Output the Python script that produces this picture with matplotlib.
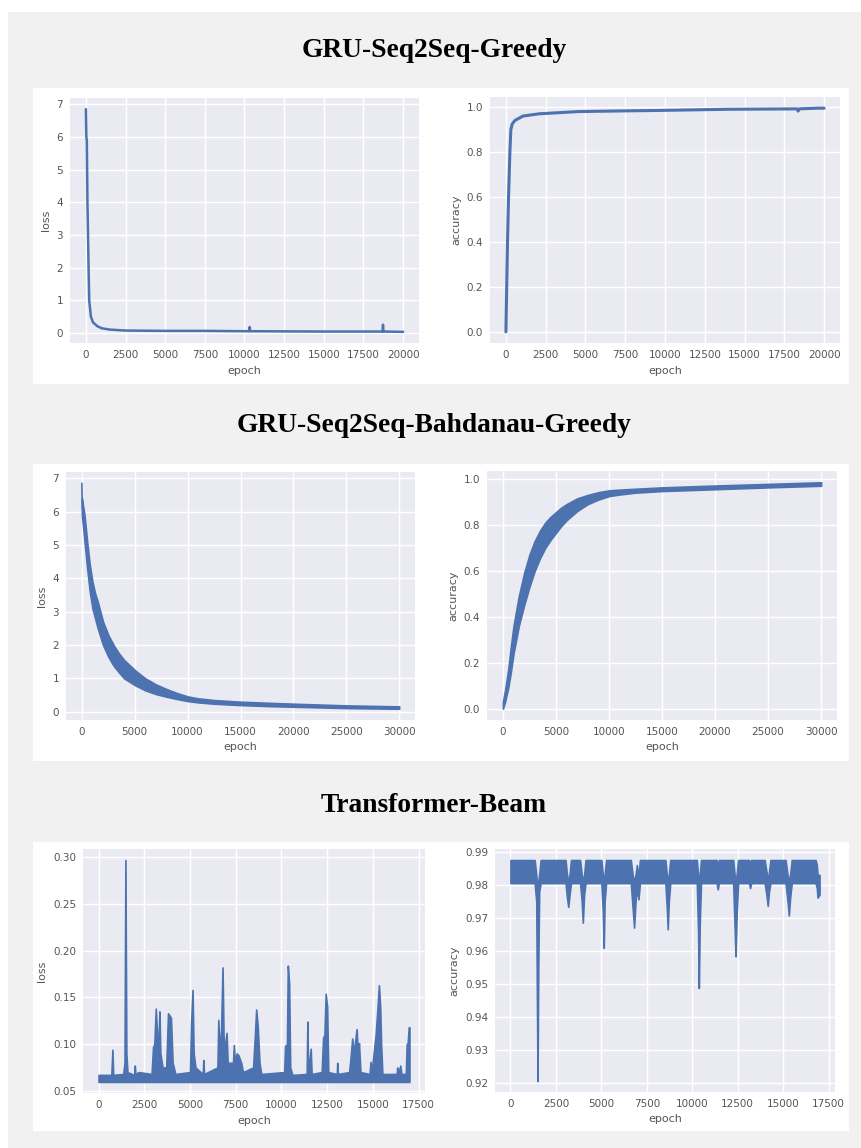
import numpy as np
import matplotlib
matplotlib.use("Agg")
import matplotlib.pyplot as plt
from matplotlib.patches import Rectangle
import seaborn as sns

sns.set_style("darkgrid")
plt.rcParams['font.family'] = ['DejaVu Sans']

# ---- data ----

# GRU-Seq2Seq-Greedy
gru_epoch = [0, 30, 60, 100, 170, 210, 315, 450, 735, 1000, 1500, 2500, 5000, 7500, 10000,
             10300, 10330, 10360, 12500, 15000, 17500, 18700, 18730, 18760, 20000]
gru_loss = [6.85, 6.0, 5.9, 4.0, 2.0, 1.0, 0.5, 0.32, 0.2, 0.14, 0.1, 0.07, 0.06, 0.06, 0.05,
            0.05, 0.18, 0.05, 0.045, 0.04, 0.04, 0.04, 0.25, 0.04, 0.03]

gru_acc_epoch = [0, 50, 100, 165, 250, 310, 400, 560, 1070, 2100, 4570, 7500, 9700, 13800,
                 18300, 18370, 18440, 19600, 20000]
gru_acc = [0.0, 0.2, 0.4, 0.6, 0.8, 0.9, 0.925, 0.94, 0.96, 0.97, 0.98, 0.983, 0.985, 0.99,
           0.992, 0.982, 0.992, 0.995, 0.995]

# GRU-Seq2Seq-Bahdanau-Greedy
bah_epoch = [0, 100, 250, 500, 750, 1000, 1250, 1500, 2000, 2500, 3000, 3500, 4000, 4500,
             5000, 6000, 7000, 8000, 9000, 10000, 11000, 12500, 15000, 17500, 20000, 25000,
             30000]
bah_loss_hi = [6.4, 6.2, 5.9, 5.1, 4.4, 3.9, 3.55, 3.3, 2.7, 2.3, 2.0, 1.75, 1.55, 1.4,
               1.25, 1.0, 0.82, 0.68, 0.56, 0.46, 0.4, 0.35, 0.3, 0.27, 0.24, 0.19, 0.16]
bah_loss_lo = [5.9, 5.6, 5.1, 4.3, 3.6, 3.1, 2.8, 2.5, 2.0, 1.65, 1.38, 1.18, 1.0, 0.9,
               0.8, 0.64, 0.53, 0.45, 0.38, 0.32, 0.28, 0.24, 0.2, 0.17, 0.15, 0.11, 0.09]
bah_spike_epoch = [0, 40]
bah_spike_loss = [6.85, 6.1]

bah_acc_epoch = [0, 200, 500, 750, 1000, 1500, 2000, 2500, 3000, 3500, 4000, 4500, 5000,
                 5500, 6000, 7000, 8000, 9000, 10000, 11000, 12500, 15000, 20000, 25000,
                 30000]
bah_acc_hi = [0.03, 0.08, 0.17, 0.27, 0.36, 0.49, 0.59, 0.67, 0.73, 0.775, 0.81, 0.835,
              0.855, 0.875, 0.89, 0.915, 0.93, 0.942, 0.95, 0.953, 0.957, 0.963, 0.971,
              0.978, 0.985]
bah_acc_lo = [0.0, 0.03, 0.09, 0.16, 0.24, 0.36, 0.45, 0.53, 0.6, 0.655, 0.7, 0.735, 0.765,
              0.795, 0.82, 0.86, 0.89, 0.91, 0.925, 0.932, 0.94, 0.947, 0.955, 0.963, 0.97]

# Transformer-Beam
tf_epoch = [0, 700, 760, 800, 1350, 1420, 1470, 1520, 1580, 1950, 1980, 2020, 2200, 2900,
            2980, 3050, 3130, 3200, 3280, 3330, 3380, 3500, 3700, 3800, 3900, 3960, 4050,
            4200, 5000, 5060, 5140, 5200, 5300, 5700, 5730, 5770, 6500, 6550, 6620, 6700,
            6780, 6850, 7000, 7060, 7350, 7400, 7450, 7550, 7650, 7800, 7900, 8450, 8550,
            8620, 8700, 8800, 8900, 10150, 10200, 10300, 10350, 10420, 10480, 10600, 11380,
            11420, 11460, 11600, 11650, 12200, 12280, 12350, 12420, 12500, 12560, 13030,
            13050, 13090, 13700, 13780, 13870, 13950, 14110, 14180, 14240, 14320, 14820,
            14870, 14920, 15150, 15250, 15330, 15400, 15450, 15520, 16300, 16330, 16380,
            16500, 16560, 16800, 16850, 16900, 16960, 17000]
tf_loss_hi = [0.067, 0.067, 0.094, 0.067, 0.068, 0.08, 0.297, 0.09, 0.07, 0.067, 0.077,
              0.068, 0.07, 0.068, 0.097, 0.1, 0.138, 0.11, 0.105, 0.135, 0.09, 0.075, 0.075,
              0.133, 0.13, 0.128, 0.08, 0.068, 0.07, 0.122, 0.158, 0.09, 0.075, 0.068, 0.083,
              0.068, 0.075, 0.126, 0.09, 0.115, 0.182, 0.09, 0.112, 0.08, 0.08, 0.099, 0.08,
              0.09, 0.088, 0.08, 0.07, 0.075, 0.11, 0.137, 0.12, 0.08, 0.068, 0.07, 0.098,
              0.1, 0.184, 0.165, 0.075, 0.067, 0.068, 0.124, 0.068, 0.095, 0.068, 0.07, 0.107,
              0.11, 0.154, 0.14, 0.07, 0.068, 0.08, 0.068, 0.07, 0.085, 0.106, 0.09, 0.116,
              0.09, 0.101, 0.07, 0.068, 0.081, 0.068, 0.11, 0.138, 0.163, 0.14, 0.1, 0.068,
              0.068, 0.075, 0.068, 0.077, 0.068, 0.068, 0.1, 0.1, 0.118, 0.118]
tf_loss_floor = 0.0595

# accuracy: each dip listed as shoulder / edge / bottom / edge / shoulder
tf_acc_epoch = [0,
                1330, 1420, 1450, 1490, 1530, 1580, 1660,
                3030, 3110, 3180, 3250, 3330,
                3830, 3920, 3980, 4050, 4130,
                5000, 5080, 5130, 5180, 5260,
                6620, 6720, 6800, 6880, 6950, 7040, 7120,
                8520, 8600, 8650, 8710, 8790,
                10250, 10320, 10360, 10410, 10480,
                11340, 11400, 11460,
                12250, 12330, 12380, 12440, 12520,
                13120, 13180, 13240,
                13980, 14080, 14150, 14220, 14300,
                15130, 15240, 15310, 15380, 15470,
                16780, 16850, 16890, 17000]
tf_acc_lo = [0.9805,
             0.9805, 0.975, 0.95, 0.9205, 0.955, 0.978, 0.9805,
             0.9805, 0.976, 0.9733, 0.977, 0.9805,
             0.9805, 0.975, 0.9685, 0.977, 0.9805,
             0.9805, 0.972, 0.9609, 0.975, 0.9805,
             0.9805, 0.973, 0.967, 0.975, 0.979, 0.9756, 0.9805,
             0.9805, 0.973, 0.9665, 0.975, 0.9805,
             0.9805, 0.966, 0.9487, 0.968, 0.9805,
             0.9805, 0.9786, 0.9805,
             0.9805, 0.967, 0.9583, 0.971, 0.9805,
             0.9805, 0.979, 0.9805,
             0.9805, 0.977, 0.9736, 0.978, 0.9805,
             0.9805, 0.975, 0.9707, 0.976, 0.9805,
             0.9805, 0.979, 0.9761, 0.977]
tf_acc_hi = [0.9875,
             0.9875, 0.983, 0.981, 0.981, 0.981, 0.983, 0.9875,
             0.9875, 0.983, 0.981, 0.983, 0.9875,
             0.9875, 0.983, 0.981, 0.983, 0.9875,
             0.9875, 0.983, 0.981, 0.983, 0.9875,
             0.9875, 0.983, 0.981, 0.983, 0.986, 0.982, 0.9875,
             0.9875, 0.983, 0.981, 0.983, 0.9875,
             0.9875, 0.983, 0.981, 0.983, 0.9875,
             0.9875, 0.985, 0.9875,
             0.9875, 0.983, 0.981, 0.983, 0.9875,
             0.9875, 0.986, 0.9875,
             0.9875, 0.984, 0.981, 0.984, 0.9875,
             0.9875, 0.983, 0.981, 0.983, 0.9875,
             0.9875, 0.986, 0.983, 0.983]

titles = ["GRU-Seq2Seq-Greedy", "GRU-Seq2Seq-Bahdanau-Greedy", "Transformer-Beam"]

# ---- figure ----
W, H = 861, 1148
fig = plt.figure(figsize=(W / 100, H / 100), dpi=100, facecolor="white")
blue = "#4c72b0"


def px_axes(x0, y0, x1, y1):
    return fig.add_axes([x0 / W, 1 - y1 / H, (x1 - x0) / W, (y1 - y0) / H])


def style(ax, ylabel):
    ax.set_facecolor("#eaeaf2")
    ax.grid(True, color="white", lw=1.0)
    for s in ax.spines.values():
        s.set_visible(False)
    ax.tick_params(length=0, labelsize=7.5, labelcolor="#555555", pad=5)
    ax.set_xlabel("epoch", fontsize=8, color="#555555", labelpad=4)
    ax.set_ylabel(ylabel, fontsize=8, color="#555555", labelpad=4)


# grey page and white panels
fig.patches.append(Rectangle((8 / W, 0), 1, 1 - 12 / H, transform=fig.transFigure,
                             facecolor="#f1f1f1", edgecolor="none", zorder=-3))
for y0, y1 in [(88, 384), (464, 761), (842, 1131)]:
    fig.patches.append(Rectangle((33 / W, 1 - y1 / H), (849 - 33) / W, (y1 - y0) / H,
                                 transform=fig.transFigure, facecolor="white",
                                 edgecolor="none", zorder=-2))
for t, yb in zip(titles, [57, 432, 812]):
    fig.text(434 / W, 1 - yb / H, t, ha="center", va="baseline", fontsize=19.8,
             fontweight="bold", family="Liberation Serif", color="black")

# row 1
ax = px_axes(70, 98, 419, 343)
ax.plot(gru_epoch, gru_loss, color=blue, lw=1.8)
ax.set_xticks(np.arange(0, 20001, 2500))
style(ax, "loss")

ax = px_axes(490, 97, 840, 343)
ax.plot(gru_acc_epoch, gru_acc, color=blue, lw=2.2)
ax.set_xticks(np.arange(0, 20001, 2500))
style(ax, "accuracy")

# row 2
ax = px_axes(66, 472, 415, 720)
ax.fill_between(bah_epoch, bah_loss_lo, bah_loss_hi, color=blue, lw=1.2, edgecolor=blue)
ax.plot(bah_spike_epoch, bah_spike_loss, color=blue, lw=1.2)
style(ax, "loss")

ax = px_axes(487, 471, 837, 720)
ax.fill_between(bah_acc_epoch, bah_acc_lo, bah_acc_hi, color=blue, lw=1.2, edgecolor=blue)
style(ax, "accuracy")

# row 3
ax = px_axes(83, 849, 425, 1093)
ax.fill_between(tf_epoch, tf_loss_floor, tf_loss_hi, color=blue, lw=1.2, edgecolor=blue)
ax.set_xticks(np.arange(0, 17501, 2500))
style(ax, "loss")

ax = px_axes(495, 849, 835, 1092)
ax.fill_between(tf_acc_epoch, tf_acc_lo, tf_acc_hi, color=blue, lw=1.2, edgecolor=blue)
ax.set_xticks(np.arange(0, 17501, 2500))
style(ax, "accuracy")

fig.savefig("out.png", dpi=100, facecolor=fig.get_facecolor())
